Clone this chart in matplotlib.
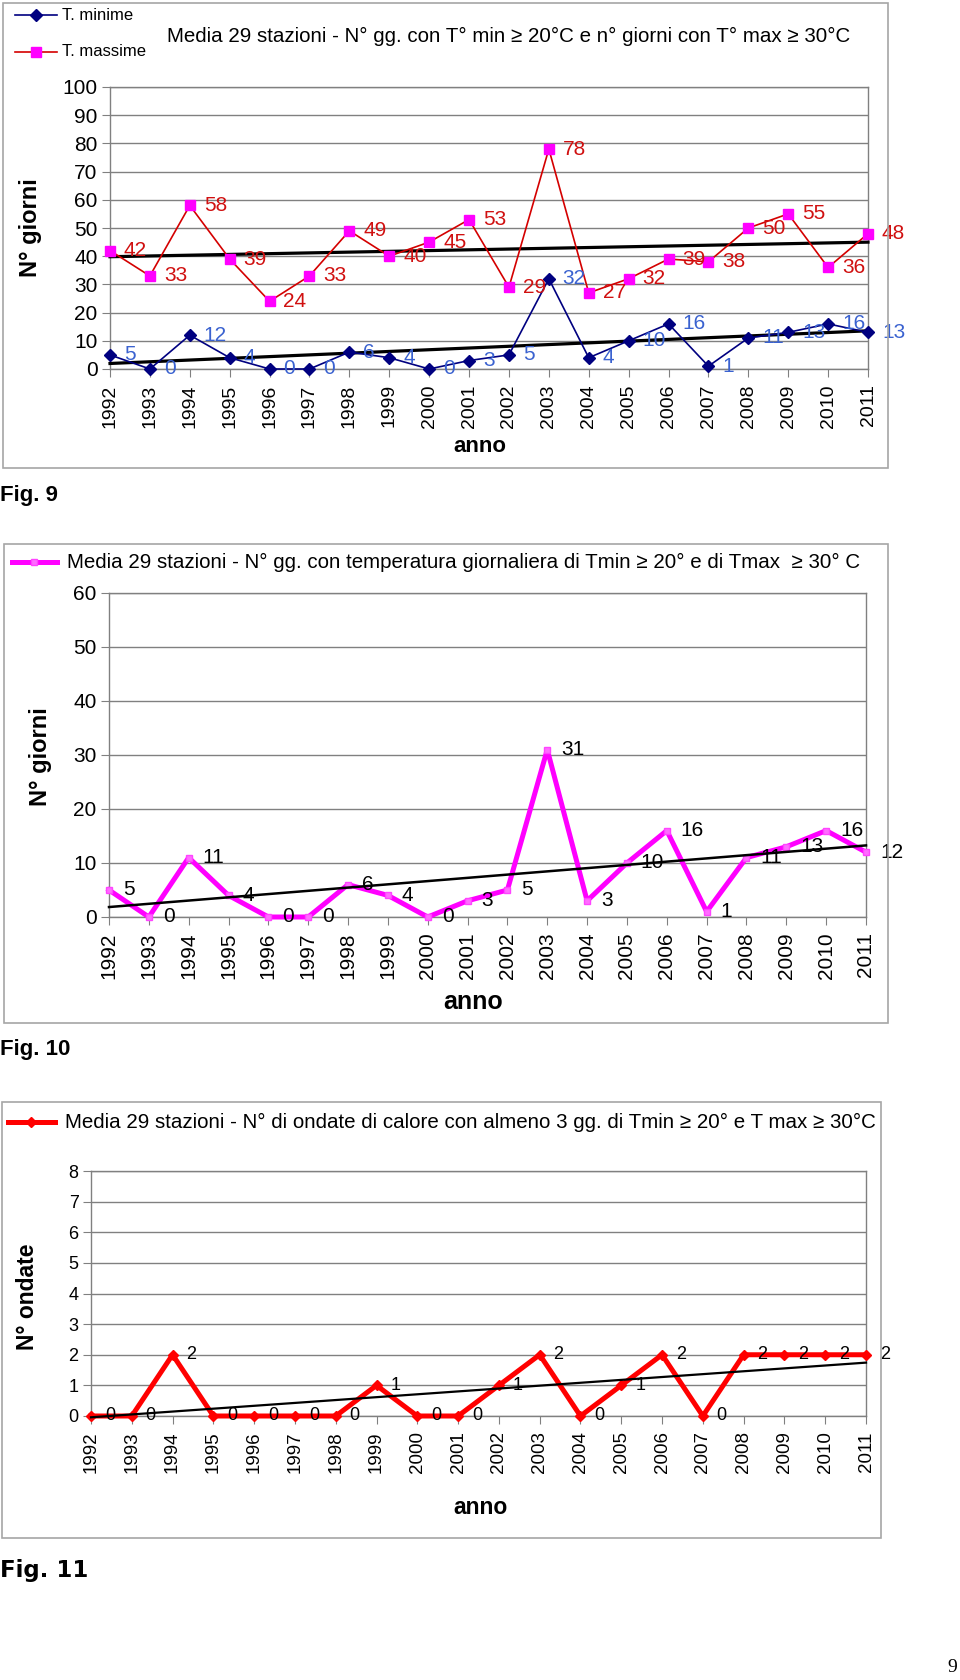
import matplotlib
matplotlib.use("Agg")

import numpy as np
import matplotlib.pyplot as plt
from matplotlib.lines import Line2D
from matplotlib.patches import Rectangle

plt.rcParams['font.family'] = ['Liberation Sans', 'DejaVu Sans']

YEARS = list(range(1992, 2012))
T_MIN = [5, 0, 12, 4, 0, 0, 6, 4, 0, 3, 5, 32, 4, 10, 16, 1, 11, 13, 16, 13]
T_MAX = [42, 33, 58, 39, 24, 33, 49, 40, 45, 53, 29, 78, 27, 32, 39, 38, 50, 55, 36, 48]
GG_BOTH = [5, 0, 11, 4, 0, 0, 6, 4, 0, 3, 5, 31, 3, 10, 16, 1, 11, 13, 16, 12]
ONDATE = [0, 0, 2, 0, 0, 0, 0, 1, 0, 0, 1, 2, 0, 1, 2, 0, 2, 2, 2, 2]

TITLE_9 = "Media 29 stazioni - N° gg. con T° min ≥ 20°C e n° giorni con T° max ≥ 30°C"
LEGEND_10 = "Media 29 stazioni - N° gg. con temperatura giornaliera di Tmin ≥ 20° e di Tmax  ≥ 30° C"
LEGEND_11 = "Media 29 stazioni - N° di ondate di calore con almeno 3 gg. di Tmin ≥ 20° e T max ≥ 30°C"

W, H = 960, 1680
GRID = "#808080"


def rect(l, t, r, b):
    return [l / W, 1 - b / H, (r - l) / W, (b - t) / H]


def fx(x):
    return x / W


def fy(y):
    return 1 - y / H


def box(fig, l, t, r, b):
    fig.patches.append(Rectangle((fx(l), fy(b)), (r - l) / W, (b - t) / H,
                                 transform=fig.transFigure, fill=False,
                                 edgecolor="#a6a6a6", lw=1.2))


def setup_axes(ax, ymax, ystep, ysize, xsize):
    x = np.arange(len(YEARS))
    ax.set_xlim(0, len(YEARS) - 1)
    ax.set_ylim(0, ymax)
    ax.set_yticks(np.arange(0, ymax + 1, ystep))
    ax.set_xticks(x)
    ax.set_xticklabels([str(y) for y in YEARS], rotation=90, fontsize=xsize)
    ax.tick_params(axis="y", labelsize=ysize, length=6, color=GRID, pad=3)
    ax.tick_params(axis="x", length=6, color=GRID, pad=5)
    ax.grid(axis="y", color=GRID, lw=1)
    ax.set_axisbelow(True)
    for s in ax.spines.values():
        s.set_color(GRID)
        s.set_linewidth(1)


def trend(ax, values, lw):
    x = np.arange(len(values))
    k, q = np.polyfit(x, values, 1)
    ax.plot(x, k * x + q, color="black", lw=lw, zorder=4, clip_on=False)


def labels(ax, values, color, size):
    for i, v in enumerate(values):
        ax.annotate(str(v), (i, v), xytext=(10, 0), textcoords="offset points",
                    ha="left", va="center", fontsize=size, color=color,
                    annotation_clip=False, zorder=6)


fig = plt.figure(figsize=(W / 100, H / 100), dpi=100)
x = np.arange(len(YEARS))

# ---- Fig. 9
box(fig, 3, 3, 888, 468)
ax1 = fig.add_axes(rect(110, 87, 868, 369))
setup_axes(ax1, 100, 10, 15, 14)
trend(ax1, T_MAX, 2.3)
trend(ax1, T_MIN, 2.3)
ax1.plot(x, T_MIN, color="#000080", lw=1.2, marker="D", ms=6, zorder=5, clip_on=False)
ax1.plot(x, T_MAX, color="#d40000", lw=1.2, marker="s", ms=7,
         mfc="#ff00ff", mec="#ff00ff", zorder=5, clip_on=False)
labels(ax1, T_MIN, "#3a62d0", 15)
labels(ax1, T_MAX, "#d01010", 15)

fig.add_artist(Line2D([fx(15), fx(36), fx(57)], [fy(15)] * 3, color="#000080", lw=1.2,
                      marker="D", ms=6, markevery=[1]))
fig.add_artist(Line2D([fx(15), fx(36), fx(57)], [fy(52)] * 3, color="#d40000", lw=1.2,
                      marker="s", ms=7, mfc="#ff00ff", mec="#ff00ff", markevery=[1]))
fig.text(fx(62), fy(15), "T. minime", fontsize=12, va="center")
fig.text(fx(62), fy(52), "T. massime", fontsize=12, va="center")
fig.text(fx(167), fy(36), TITLE_9, fontsize=14.8, va="center")
fig.text(fx(31), fy(228), "N° giorni", fontsize=17, fontweight="bold", rotation=90,
         ha="center", va="center")
fig.text(fx(480), fy(447), "anno", fontsize=16, fontweight="bold", ha="center", va="center")
fig.text(fx(0), fy(495), "Fig. 9", fontsize=16, fontweight="bold", va="center")

# ---- Fig. 10
box(fig, 4, 544, 888, 1023)
ax2 = fig.add_axes(rect(109, 593, 866, 917))
setup_axes(ax2, 60, 10, 15, 15)
ax2.plot(x, GG_BOTH, color="#ff00ff", lw=3.6, marker="s", ms=5,
         mfc="#ff6cff", mec="#ff44ff", zorder=4, clip_on=False)
trend(ax2, GG_BOTH, 1.8)
labels(ax2, GG_BOTH, "black", 15)

fig.add_artist(Line2D([fx(12), fx(34), fx(57)], [fy(562)] * 3, color="#ff00ff", lw=3.6,
                      marker="s", ms=5, mfc="#ff6cff", mec="#ff44ff", markevery=[1]))
fig.text(fx(67), fy(562), LEGEND_10, fontsize=14.8, va="center")
fig.text(fx(40), fy(757), "N° giorni", fontsize=17, fontweight="bold", rotation=90,
         ha="center", va="center")
fig.text(fx(473), fy(1002), "anno", fontsize=18, fontweight="bold", ha="center", va="center")
fig.text(fx(0), fy(1050), "Fig. 10", fontsize=16, fontweight="bold", va="center")

# ---- Fig. 11
box(fig, 2, 1102, 881, 1538)
ax3 = fig.add_axes(rect(91, 1171, 866, 1416))
setup_axes(ax3, 8, 1, 13, 13.5)
ax3.plot(x, ONDATE, color="#ff0000", lw=3.6, marker="D", ms=5, zorder=4, clip_on=False)
trend(ax3, ONDATE, 1.6)
labels(ax3, ONDATE, "black", 13)

fig.add_artist(Line2D([fx(8), fx(31), fx(55)], [fy(1122)] * 3, color="#ff0000", lw=3.6,
                      marker="D", ms=5, markevery=[1]))
fig.text(fx(65), fy(1122), LEGEND_11, fontsize=14.8, va="center")
fig.text(fx(28), fy(1297), "N° ondate", fontsize=16.5, fontweight="bold", rotation=90,
         ha="center", va="center")
fig.text(fx(480), fy(1507), "anno", fontsize=16.5, fontweight="bold", ha="center", va="center")
fig.text(fx(0), fy(1570), "Fig. 11", fontsize=16.5, fontweight="bold", va="center",
         family=["DejaVu Sans"])

fig.text(fx(952), fy(1668), "9", fontsize=14, ha="center", va="center",
         family=["Liberation Serif"])

fig.savefig("out.png", dpi=100)
